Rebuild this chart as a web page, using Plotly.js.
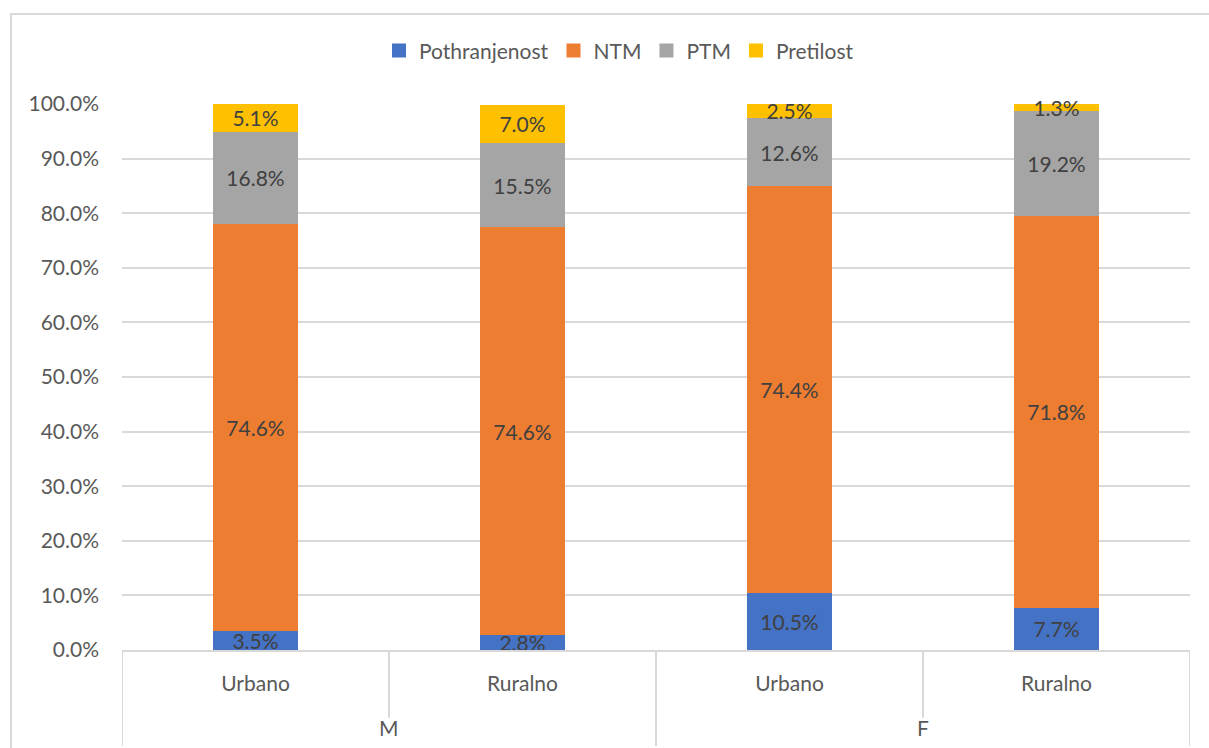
<!DOCTYPE html>
<html>
<head>
<meta charset="utf-8">
<script src="https://cdn.plot.ly/plotly-3.0.1.min.js"></script>
<style>
  html, body { margin: 0; padding: 0; background: #fff; }
  #wrap { position: relative; width: 1209px; height: 748px; overflow: hidden; }
  #chart { width: 1209px; height: 748px; }
  #frame { position: absolute; left: 10px; top: 13px; width: 1400px; height: 900px;
           border: 2px solid #d9d9d9; pointer-events: none; }
</style>
</head>
<body>
<div id="wrap">
  <div id="chart"></div>
  <div id="frame"></div>
</div>
<script>
const groups = ["M", "M", "F", "F"];
const subs = ["Urbano", "Ruralno", "Urbano", "Ruralno"];
const seriesNames = ["Pothranjenost", "NTM", "PTM", "Pretilost"];
const pothranjenost = [3.5, 2.8, 10.5, 7.7];
const ntm = [74.6, 74.6, 74.4, 71.8];
const ptm = [16.8, 15.5, 12.6, 19.2];
const pretilost = [5.1, 7.0, 2.5, 1.3];
const colors = ["#4472C4", "#ED7D31", "#A5A5A5", "#FFC000"];
const yTicks = [0, 0.1, 0.2, 0.3, 0.4, 0.5, 0.6, 0.7, 0.8, 0.9, 1.0];

const FONT = "Lato, 'Open Sans', sans-serif";
const FS = 21;
const idx = subs.map((_, i) => i);
const allSeries = [pothranjenost, ntm, ptm, pretilost];

const traces = allSeries.map((vals, k) => ({
  type: "bar",
  name: seriesNames[k],
  legendgroup: seriesNames[k],
  showlegend: false,
  x: idx,
  y: vals.map(v => v / 100),
  marker: { color: colors[k], line: { width: 0 } },
  text: vals.map(v => v.toFixed(1) + "%"),
  textposition: "inside",
  insidetextanchor: "middle",
  textangle: 0,
  constraintext: "none",
  textfont: { family: FONT, size: FS, color: "#404040" },
  hoverinfo: "skip",
  cliponaxis: false
}));

// legend entries with square swatches
seriesNames.forEach((n, k) => traces.push({
  type: "scatter", mode: "markers", name: n, legendgroup: n,
  x: [null], y: [null],
  marker: { symbol: "square", size: 14, color: colors[k] },
  hoverinfo: "skip", showlegend: true
}));

const groupNames = [...new Set(groups)];
const annotations = groupNames.map(g => {
  const ids = idx.filter(i => groups[i] === g);
  const mid = (ids[0] + ids[ids.length - 1]) / 2;
  return {
    x: mid, xref: "x", y: -0.142, yref: "paper",
    text: g, showarrow: false,
    font: { family: FONT, size: FS, color: "#595959" },
    xanchor: "center", yanchor: "middle"
  };
});

const lineStyle = { color: "#d9d9d9", width: 2 };
const shapes = [];
[-0.5, 1.5, 3.5].forEach(xv => shapes.push({
  type: "line", xref: "x", yref: "paper", x0: xv, x1: xv, y0: 0, y1: -0.176, line: lineStyle
}));
[0.5, 2.5].forEach(xv => shapes.push({
  type: "line", xref: "x", yref: "paper", x0: xv, x1: xv, y0: 0, y1: -0.124, line: lineStyle
}));

const layout = {
  width: 1209, height: 748,
  margin: { l: 122, r: 19, t: 104, b: 98 },
  paper_bgcolor: "#fff", plot_bgcolor: "#fff",
  barmode: "stack",
  bargap: 0.685,
  showlegend: true,
  legend: {
    orientation: "h", xref: "container", yref: "container",
    x: 0.512, xanchor: "center", y: 0.932, yanchor: "middle",
    font: { family: FONT, size: FS, color: "#595959" },
    itemwidth: 30, traceorder: "normal"
  },
  xaxis: {
    range: [-0.5, 3.5],
    tickvals: idx, ticktext: subs,
    showgrid: false, zeroline: false,
    showline: true, linecolor: "#d9d9d9", linewidth: 2,
    ticks: "", ticklabelstandoff: 14,
    tickfont: { family: FONT, size: FS, color: "#595959" },
    fixedrange: true
  },
  yaxis: {
    range: [0, 1], tickvals: yTicks, tickformat: ".1%",
    showgrid: true, gridcolor: "#d9d9d9", gridwidth: 2,
    zeroline: false, showline: false, ticks: "",
    ticklabelstandoff: 22,
    tickfont: { family: FONT, size: FS, color: "#595959" },
    fixedrange: true
  },
  annotations: annotations,
  shapes: shapes
};

Plotly.newPlot("chart", traces, layout, { displayModeBar: false, staticPlot: true });
</script>
</body>
</html>
